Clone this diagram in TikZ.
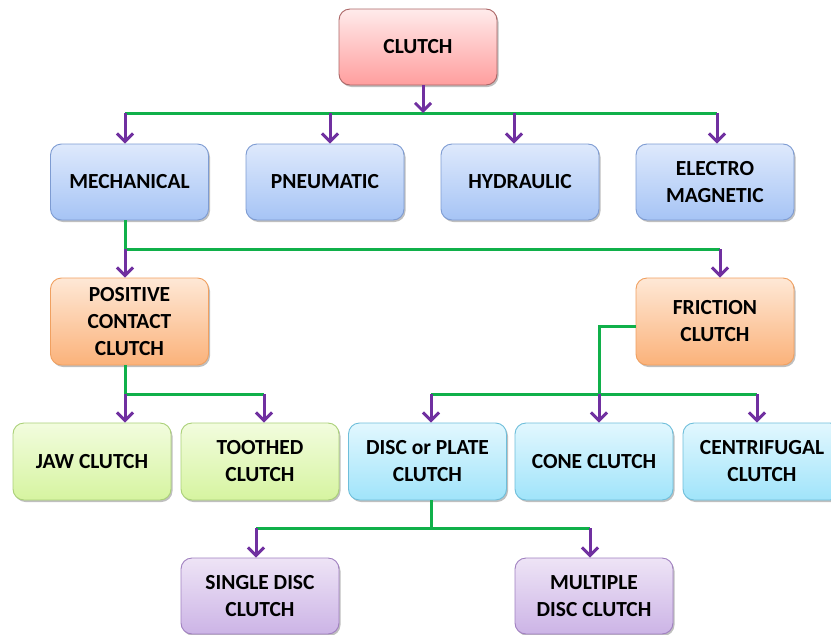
\documentclass[tikz,border=0pt]{standalone}
\usepackage{fontspec}
\setmainfont{Carlito}
\usetikzlibrary{arrows.meta,shadows}
\definecolor{gl}{HTML}{10B04A}
\definecolor{pa}{HTML}{7030A0}
\tikzset{
  box/.style={draw, line width=0.9pt, rounded corners=11pt, minimum width=158pt, minimum height=76pt,
    inner sep=0pt, align=center, font=\fontsize{21.5}{27}\selectfont\bfseries, text=black,
    drop shadow={shadow xshift=1.5pt, shadow yshift=-2pt, opacity=0.25, fill=black}},
  redbox/.style={box, draw=red!45!black!60, top color=red!8, bottom color=red!38},
  bluebox/.style={box, draw={rgb,255:red,125;green,155;blue,210}, top color={rgb,255:red,222;green,233;blue,252}, bottom color={rgb,255:red,166;green,196;blue,245}},
  orbox/.style={box, draw={rgb,255:red,240;green,160;blue,96}, top color={rgb,255:red,254;green,232;blue,214}, bottom color={rgb,255:red,251;green,178;blue,122}},
  grbox/.style={box, draw={rgb,255:red,170;green,208;blue,120}, top color={rgb,255:red,242;green,252;blue,222}, bottom color={rgb,255:red,214;green,244;blue,160}},
  cybox/.style={box, draw={rgb,255:red,110;green,190;blue,218}, top color={rgb,255:red,226;green,247;blue,254}, bottom color={rgb,255:red,160;green,228;blue,250}},
  pubox/.style={box, draw={rgb,255:red,160;green,128;blue,192}, top color={rgb,255:red,238;green,228;blue,246}, bottom color={rgb,255:red,204;green,180;blue,230}},
  gline/.style={draw=gl, line width=3pt},
  parrow/.style={draw=pa, line width=3pt, -{Straight Barb[length=8pt,width=16pt,line width=3pt]}},
}
\begin{document}
\begin{tikzpicture}[x=1pt,y=-1pt]
\useasboundingbox (0,0) rectangle (831,635);
% nodes
\node[redbox] (clutch) at (418,47) {CLUTCH};
\node[bluebox] (mech) at (129.5,182) {MECHANICAL};
\node[bluebox] (pneu) at (325,182) {PNEUMATIC};
\node[bluebox] (hydr) at (520,182) {HYDRAULIC};
\node[bluebox] (elec) at (715,182) {ELECTRO\\MAGNETIC};
\node[orbox, minimum height=87pt] (pos) at (129.5,321.5) {POSITIVE\\CONTACT\\CLUTCH};
\node[orbox, minimum height=87pt] (fric) at (715,321.5) {FRICTION\\CLUTCH};
\node[grbox, minimum height=77pt] (jaw) at (92,461.5) {JAW CLUTCH};
\node[grbox, minimum height=77pt] (tooth) at (260,461.5) {TOOTHED\\CLUTCH};
\node[cybox, minimum height=77pt] (disc) at (427.5,461.5) {DISC or PLATE\\CLUTCH};
\node[cybox, minimum height=77pt] (cone) at (594,461.5) {CONE CLUTCH};
\node[cybox, minimum height=77pt] (cent) at (762,461.5) {CENTRIFUGAL\\CLUTCH};
\node[pubox] (single) at (260,596) {SINGLE DISC\\CLUTCH};
\node[pubox] (multi) at (594,596) {MULTIPLE\\DISC CLUTCH};
% level 1
\coordinate (j0) at (423,113);
\coordinate (a1) at (125,113);
\coordinate (a2) at (330,113);
\coordinate (a3) at (514,113);
\coordinate (a4) at (717,113);
\draw[gline] (a1) -- (a4);
\draw[parrow] (clutch.south -| j0) -- (j0);
\draw[parrow] (a1) -- (a1 |- mech.north);
\draw[parrow] (a2) -- (a2 |- pneu.north);
\draw[parrow] (a3) -- (a3 |- hydr.north);
\draw[parrow] (a4) -- (a4 |- elec.north);
% level 2
\coordinate (b1) at (125,249);
\coordinate (b2) at (720,249);
\draw[gline] (mech.south -| b1) -- (b1) -- (b2);
\draw[parrow] (b1) -- (b1 |- pos.north);
\draw[parrow] (b2) -- (b2 |- fric.north);
% positive contact branch
\coordinate (c1) at (125,394);
\coordinate (c2) at (264,394);
\draw[gline] (pos.south -| c1) -- (c1) -- (c2);
\draw[parrow] (c1) -- (c1 |- jaw.north);
\draw[parrow] (c2) -- (c2 |- tooth.north);
% friction branch
\coordinate (f0) at (599,326);
\coordinate (d1) at (431,394);
\coordinate (d2) at (599,394);
\coordinate (d3) at (757,394);
\draw[gline] (fric.west |- f0) -- (f0) -- (d2);
\draw[gline] (d1) -- (d3);
\draw[parrow] (d1) -- (d1 |- disc.north);
\draw[parrow] (d2) -- (d2 |- cone.north);
\draw[parrow] (d3) -- (d3 |- cent.north);
% disc branch
\coordinate (e0) at (431,528);
\coordinate (e1) at (256,528);
\coordinate (e2) at (590,528);
\draw[gline] (disc.south -| e0) -- (e0);
\draw[gline] (e1) -- (e2);
\draw[parrow] (e1) -- (e1 |- single.north);
\draw[parrow] (e2) -- (e2 |- multi.north);
\end{tikzpicture}
\end{document}
